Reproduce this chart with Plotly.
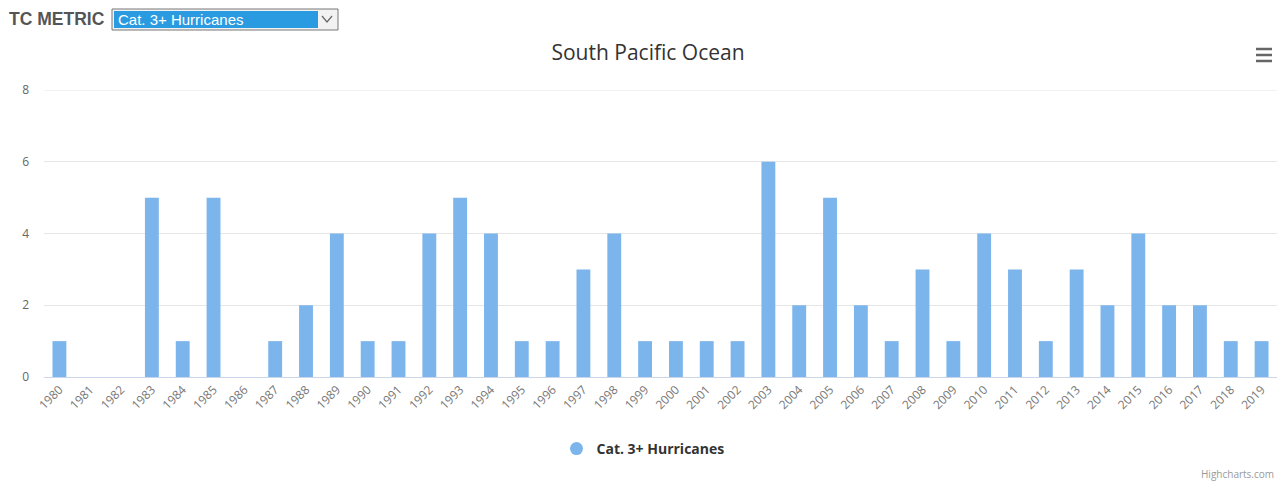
import plotly.graph_objects as go

years = [str(y) for y in range(1980, 2020)]
values = [1, 0, 0, 5, 1, 5, 0, 1, 2, 4, 1, 1, 4, 5, 4, 1, 1, 3, 4, 1,
          1, 1, 1, 6, 2, 5, 2, 1, 3, 1, 4, 3, 1, 3, 2, 4, 2, 2, 1, 1]
series_name = "Cat. 3+ Hurricanes"
title = "South Pacific Ocean"
y_ticks = [0, 2, 4, 6, 8]

W, H = 1279, 481
L, R, T, B = 44, 2, 90, 104
pw, ph = W - L - R, H - T - B

def px(x):
    return (x - L) / pw

def py(y):
    return (H - B - y) / ph

bar_color = "#7cb5ec"

fig = go.Figure()
fig.add_trace(go.Bar(x=years, y=values, marker=dict(color=bar_color, line=dict(width=0)),
                     name=series_name, showlegend=False))
fig.add_trace(go.Scatter(x=[None], y=[None], mode="markers", name=series_name,
                         marker=dict(color=bar_color, size=13, symbol="circle")))

shapes = [
    # top gridline at 8
    dict(type="line", xref="paper", yref="y", x0=0, x1=1, y0=8, y1=8,
         line=dict(color="#e6e6e6", width=1), layer="below"),
    # dropdown box
    dict(type="rect", xref="paper", yref="paper", x0=px(112), x1=px(338), y0=py(30), y1=py(9),
         fillcolor="#f2f2f2", line=dict(color="#777", width=1), layer="above"),
    dict(type="rect", xref="paper", yref="paper", x0=px(114), x1=px(318), y0=py(28), y1=py(11),
         fillcolor="#2a9be0", line=dict(width=0), layer="above"),
    # hamburger
    dict(type="line", xref="paper", yref="paper", x0=px(1256), x1=px(1272), y0=py(49), y1=py(49),
         line=dict(color="#666", width=2.5)),
    dict(type="line", xref="paper", yref="paper", x0=px(1256), x1=px(1272), y0=py(55), y1=py(55),
         line=dict(color="#666", width=2.5)),
    dict(type="line", xref="paper", yref="paper", x0=px(1256), x1=px(1272), y0=py(61), y1=py(61),
         line=dict(color="#666", width=2.5)),
    # dropdown arrow
    dict(type="path", xref="paper", yref="paper",
         path=f"M {px(322)},{py(16)} L {px(327)},{py(22)} L {px(332)},{py(16)}",
         line=dict(color="#666", width=1.2)),
]

annotations = [
    dict(text="<b>TC METRIC</b>", xref="paper", yref="paper", x=px(7), y=py(19),
         xanchor="left", yanchor="middle", showarrow=False,
         font=dict(family="Arial, Liberation Sans", size=17.5, color="#555")),
    dict(text="Cat. 3+ Hurricanes", xref="paper", yref="paper", x=px(116), y=py(19.5),
         xanchor="left", yanchor="middle", showarrow=False,
         font=dict(family="Arial, Liberation Sans", size=15, color="#ffffff")),
    dict(text="Highcharts.com", xref="paper", yref="paper", x=px(1276), y=py(474),
         xanchor="right", yanchor="middle", showarrow=False,
         font=dict(family="Open Sans, Arial", size=10, color="#999")),
]

fig.update_layout(
    width=W, height=H,
    margin=dict(l=L, r=R, t=T, b=B, pad=0),
    paper_bgcolor="white", plot_bgcolor="white",
    title=dict(text=title, xref="container", x=648 / W, xanchor="center", y=1 - 53 / H, yanchor="middle",
               font=dict(family="Open Sans, Lucida Grande, sans-serif", size=21, color="#333")),
    bargap=0.55,
    showlegend=True,
    legend=dict(orientation="h", x=px(643), xanchor="center",
                y=py(449), yanchor="middle",
                font=dict(family="Open Sans, sans-serif", size=14, color="#333", weight="bold")),
    xaxis=dict(type="category", tickangle=-45, showgrid=False,
               showline=True, linecolor="#ccd6eb", linewidth=1, ticks="",
               tickfont=dict(family="Open Sans, sans-serif", size=12, color="#777")),
    yaxis=dict(range=[0, 8], tickvals=y_ticks, showgrid=True, gridcolor="#e6e6e6",
               zeroline=False, showline=False, ticks="", ticklabelstandoff=14,
               tickfont=dict(family="Open Sans, sans-serif", size=12, color="#666")),
    shapes=shapes,
    annotations=annotations,
)

fig.write_html("out.html", config={"displayModeBar": False},
               post_script="document.body.style.margin='0';document.body.style.overflow='hidden';")
